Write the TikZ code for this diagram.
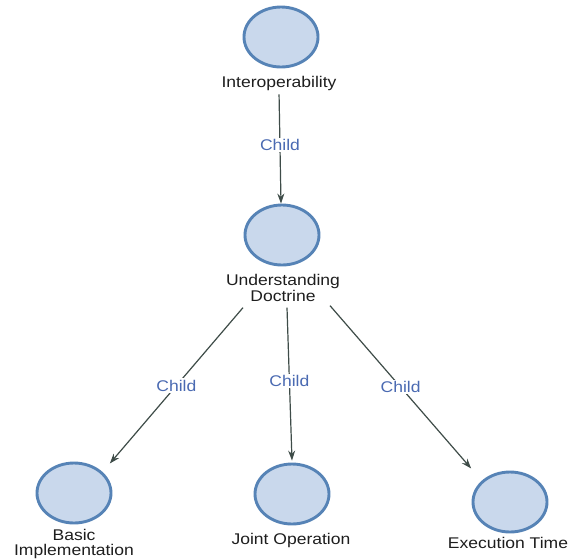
\documentclass[tikz,border=0pt]{standalone}
\usepackage{fontspec}
\setmainfont[FakeStretch=1.13]{Liberation Sans}
\usetikzlibrary{shapes.geometric,arrows.meta,calc}
\definecolor{circfill}{HTML}{C9D8EC}
\definecolor{circline}{HTML}{5683B6}
\definecolor{edgecol}{HTML}{3E4C48}
\definecolor{childcol}{HTML}{4A6AB2}
\definecolor{txtcol}{HTML}{1E1E1E}
\begin{document}
\begin{tikzpicture}[x=1pt,y=-1pt,
  concept/.style={ellipse, draw=circline, line width=2.9pt, fill=circfill,
    minimum width=74pt, minimum height=60pt, inner sep=0pt},
  lbl/.style={font=\fontsize{15.5}{15.5}\selectfont, text=txtcol, align=center, inner sep=1pt},
  rel/.style={draw=edgecol, line width=1.2pt, -{Stealth[length=10pt,width=7pt]}},
  rellbl/.style={font=\fontsize{15.5}{16}\selectfont, text=childcol, fill=white, inner sep=1.5pt}]
\useasboundingbox[fill=white] (0,0) rectangle (573,558);

\node[concept] (io) at (281,37) {};
\node[lbl] (iol) at (279,83) {Interoperability};
\node[concept] (ud) at (282,235) {};
\node[lbl] (udl) at (283,288) {Understanding\\Doctrine};
\node[concept] (bi) at (74,493) {};
\node[lbl] (bil) at (74,544) {Basic\\Implementation};
\node[concept] (jo) at (292,494) {};
\node[lbl] (jol) at (291,540) {Joint Operation};
\node[concept] (et) at (510,502) {};
\node[lbl] (etl) at (508,543) {Execution Time};

\draw[rel, shorten <=3pt] (iol.south) -- (io.north |- ud.north)
  node[rellbl, pos=0.48] {Child};
\draw[rel] ($(udl.south)+(-40,5)$) -- ($(bi.40)+(9,-7)$)
  node[rellbl, pos=0.5] {Child};
\draw[rel] ($(udl.south)+(4,5)$) -- ($(jo.north)+(0,-2)$)
  node[rellbl, pos=0.48] {Child};
\draw[rel] ($(udl.south)+(47,3)$) -- ($(et.140)+(-12,-11)$)
  node[rellbl, pos=0.5] {Child};
\end{tikzpicture}
\end{document}
